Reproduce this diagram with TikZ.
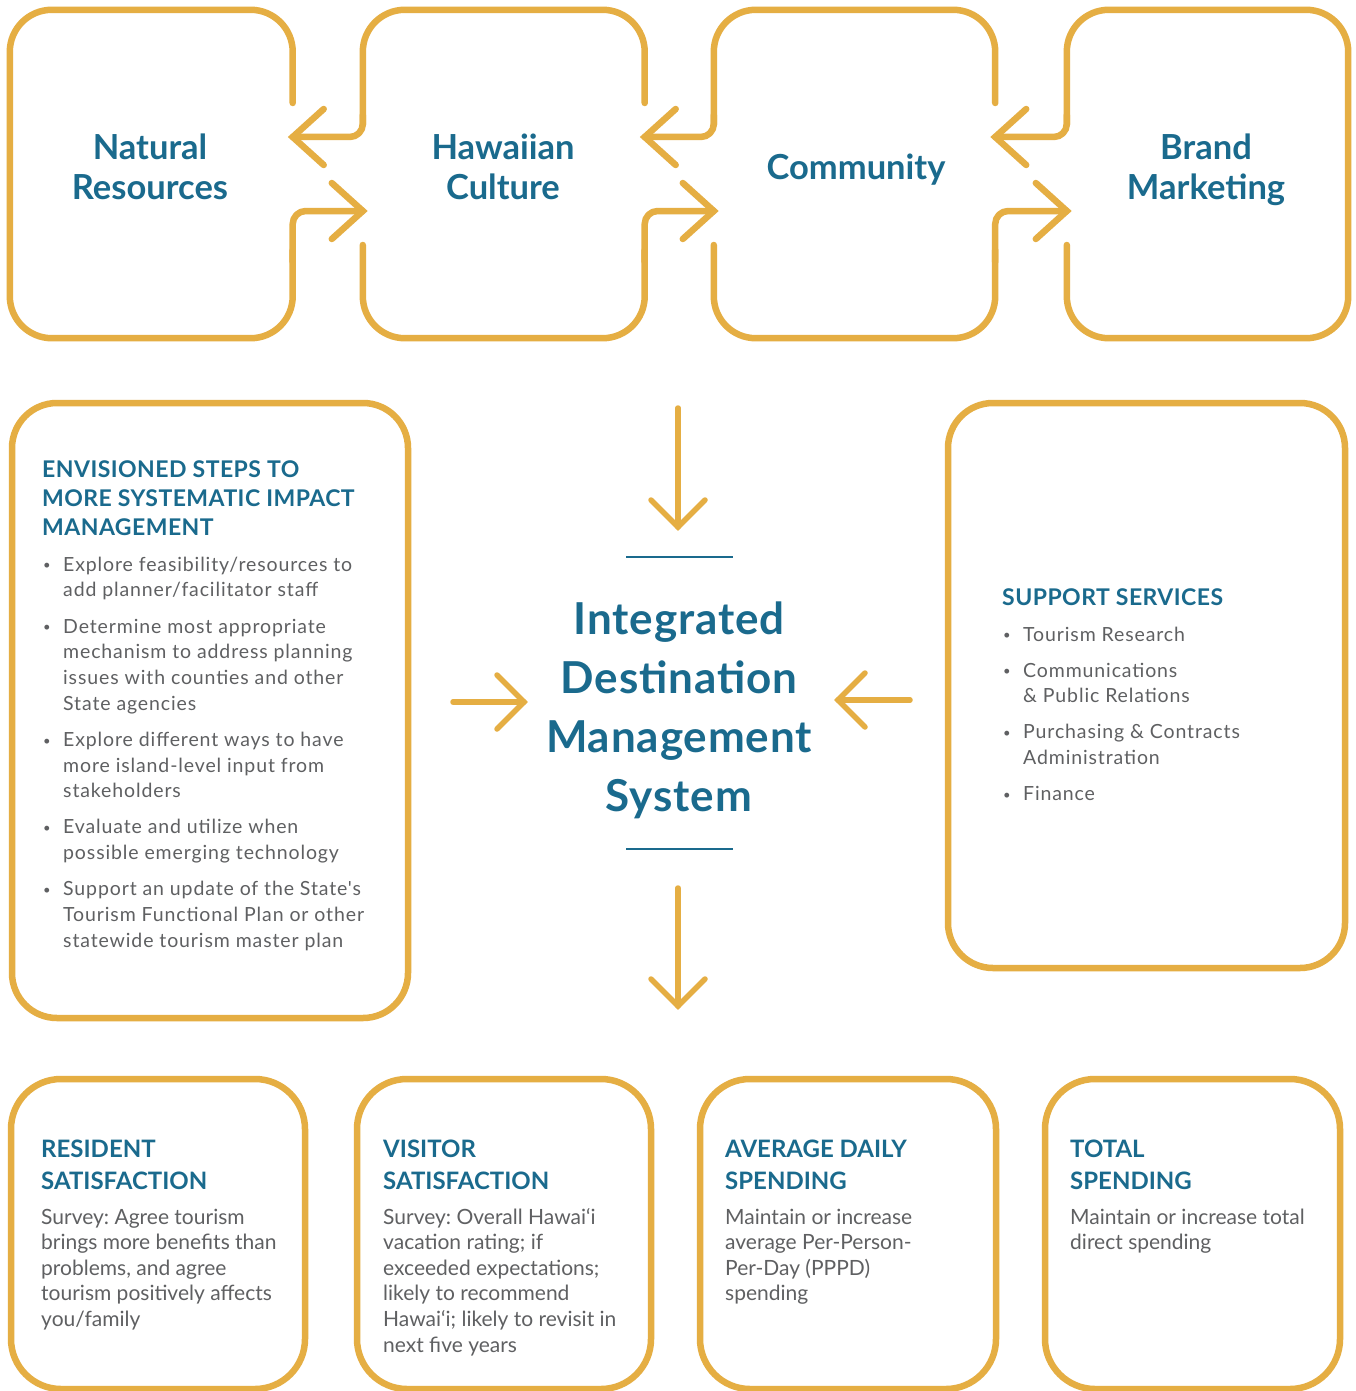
\documentclass[tikz,border=0pt]{standalone}
\usepackage{fontspec}
\setmainfont{Lato}
\newfontfamily\trkfont{Lato}[LetterSpace=4.5]
\newfontfamily\trkhead{Lato}[LetterSpace=2]
\usetikzlibrary{calc}
\definecolor{gold}{HTML}{E5AE43}
\definecolor{ink}{HTML}{1A6A8D}
\definecolor{txt}{HTML}{5F6062}
\newcommand\fsz[2]{\fontsize{#1}{#2}\selectfont}
\newcommand\bul{\hspace*{1pt}\raisebox{1.2pt}{\fontsize{13}{13}\selectfont •}}
\frenchspacing
\tikzset{
  goldln/.style={draw=gold, line width=6.5pt, line cap=round, line join=round},
  midln/.style={draw=gold, line width=5.5pt, line cap=round, line join=round},
  topbox/.style={rectangle, inner sep=0pt, minimum height=328pt},
  panel/.style={rectangle, draw=gold, line width=6.5pt, rounded corners=45pt, inner sep=0pt},
  lowpanel/.style={rectangle, draw=gold, line width=6.5pt, rounded corners=50pt, inner sep=0pt, minimum height=310pt},
  chevbig/.pic={\draw[goldln, line join=miter] (-31,-28) -- (0,0) -- (-31,28);},
  chevsmall/.pic={\draw[midln, line join=miter] (-27,-27) -- (0,0) -- (-27,27);},
  toplbl/.style={anchor=north, inner sep=0pt, text=ink, font=\fsz{34.5}{40}\bfseries},
  hdl/.style={anchor=north west, inner sep=0pt, text=ink, font=\trkhead\fsz{23}{29}\bfseries},
  bodyl/.style={anchor=north west, inner sep=0pt, text=txt, font=\trkfont\fsz{19.5}{25.7}},
  lowhd/.style={anchor=north west, inner sep=0pt, text=ink, font=\fsz{24}{32}\bfseries},
  lowbody/.style={anchor=north west, inner sep=0pt, text=txt, font=\fsz{21}{25.6}},
}
\begin{document}
\begin{tikzpicture}[x=1pt, y=-1pt]
\useasboundingbox (0,0) rectangle (1355,1391);
\fill[white] (0,0) rectangle (1355,1391);

% ---------- top row boxes ----------
\node[topbox, minimum width=282.5pt] (nat) at (151.25,174) {};
\node[topbox, minimum width=281.5pt] (haw) at (503.75,174) {};
\node[topbox, minimum width=281pt]   (com) at (854.5,174) {};
\node[topbox, minimum width=281pt]   (bra) at (1207.5,174) {};

\node[toplbl] (natT) at (150,131) {\begin{tabular}{@{}c@{}}Natural\\Resources\end{tabular}};
\node[toplbl] (hawT) at (503,131) {\begin{tabular}{@{}c@{}}Hawaiian\\Culture\end{tabular}};
\node[toplbl] (comT) at (856,151) {\begin{tabular}{@{}c@{}}Community\end{tabular}};
\node[toplbl] (braT) at (1206,131) {\begin{tabular}{@{}c@{}}Brand\\Marketing\end{tabular}};

% outlines (open where arrows pass)
\draw[goldln, rounded corners=42pt] (nat.east |- 0,103) -- (nat.north east) -- (nat.north west)
   -- (nat.south west) -- (nat.south east) -- (nat.east |- 0,250);
\foreach \b in {haw,com}{
  \draw[goldln, rounded corners=42pt] (\b.west |- 0,125) -- (\b.north west) -- (\b.north east) -- (\b.east |- 0,103);
  \draw[goldln, rounded corners=42pt] (\b.west |- 0,245) -- (\b.south west) -- (\b.south east) -- (\b.east |- 0,250);
}
\draw[goldln, rounded corners=42pt] (bra.west |- 0,125) -- (bra.north west) -- (bra.north east)
   -- (bra.south east) -- (bra.south west) -- (bra.west |- 0,245);

% connectors between neighbouring boxes
\foreach \a/\b in {nat/haw, haw/com, com/bra}{
  \draw[goldln, rounded corners=13pt] (\b.west |- 0,115) -- (\b.west |- 0,137) -- (\a.east |- 0,137);
  \pic[rotate=180] at (\a.east |- 0,137) {chevbig};
  \draw[goldln, rounded corners=13pt] (\a.east |- 0,262) -- (\a.east |- 0,211) -- (\b.west |- 0,211);
  \pic at (\b.west |- 0,211) {chevbig};
}

% ---------- middle row ----------
\node[panel, minimum width=396pt, minimum height=615pt] (steps) at (210,710.5) {};
\node[panel, minimum width=397pt, minimum height=565pt] (supp) at (1146.5,685.5) {};

\node[hdl] (stepsHd) at (42,456.7) {\begin{tabular}{@{}l@{}}ENVISIONED STEPS TO\\MORE SYSTEMATIC IMPACT\\MANAGEMENT\end{tabular}};
\node[bodyl] (stepsBd) at (42,553) {\begin{tabular}{@{}p{21pt}@{}l@{}}
\bul & Explore feasibility/resources to\\
     & add planner/facilitator staff\\[10.5pt]
\bul & Determine most appropriate\\
     & mechanism to address planning\\
     & issues with counties and other\\
     & State agencies\\[10.5pt]
\bul & Explore different ways to have\\
     & more island-level input from\\
     & stakeholders\\[10.5pt]
\bul & Evaluate and utilize when\\
     & possible emerging technology\\[10.5pt]
\bul & Support an update of the State's\\
     & Tourism Functional Plan or other\\
     & statewide tourism master plan
\end{tabular}};

\node[hdl] (suppHd) at (1002,584.7) {\begin{tabular}{@{}l@{}}SUPPORT SERVICES\end{tabular}};
\node[bodyl] (suppBd) at (1002,623) {\begin{tabular}{@{}p{21pt}@{}l@{}}
\bul & Tourism Research\\[10.3pt]
\bul & Communications\\
     & \& Public Relations\\[10.3pt]
\bul & Purchasing \& Contracts\\
     & Administration\\[10.3pt]
\bul & Finance
\end{tabular}};

\node[anchor=north, inner sep=0pt, text=ink, font=\trkhead\fsz{44}{59}\bfseries] (idms) at (679,592.5)
  {\begin{tabular}{@{}c@{}}Integrated\\Destination\\Management\\System\end{tabular}};
\draw[ink, line width=2.6pt] (626,557) -- (733,557);
\draw[ink, line width=2.6pt] (626,849) -- (733,849);

\coordinate (inTopS) at (678,408);  \coordinate (inTopE) at (678,527);
\coordinate (outS)   at (678,888);  \coordinate (outE)   at (678,1006);
\coordinate (inLS)   at (453,702);  \coordinate (inLE)   at (524,702);
\coordinate (inRS)   at (910,700);  \coordinate (inRE)   at (838,700);
\draw[midln] (inTopS) -- (inTopE); \pic[rotate=-90] at (inTopE) {chevsmall};
\draw[midln] (outS) -- (outE);     \pic[rotate=-90] at (outE) {chevsmall};
\draw[midln] (inLS) -- (inLE);     \pic at (inLE) {chevsmall};
\draw[midln] (inRS) -- (inRE);     \pic[rotate=180] at (inRE) {chevsmall};

% ---------- bottom row ----------
\node[lowpanel, minimum width=294pt] (res) at (158,1234) {};
\node[lowpanel, minimum width=294pt] (vis) at (504,1234) {};
\node[lowpanel, minimum width=296pt] (avg) at (848,1234) {};
\node[lowpanel, minimum width=295pt] (tot) at (1192.5,1234) {};

\node[lowhd] (resHd) at (41,1134.6) {\begin{tabular}{@{}l@{}}RESIDENT\\SATISFACTION\end{tabular}};
\node[lowhd] (visHd) at (383,1134.6) {\begin{tabular}{@{}l@{}}VISITOR\\SATISFACTION\end{tabular}};
\node[lowhd] (avgHd) at (725,1134.6) {\begin{tabular}{@{}l@{}}AVERAGE DAILY\\SPENDING\end{tabular}};
\node[lowhd] (totHd) at (1070,1134.6) {\begin{tabular}{@{}l@{}}TOTAL\\SPENDING\end{tabular}};

\node[lowbody] (resBd) at (41,1206) {\begin{tabular}{@{}l@{}}Survey: Agree tourism\\brings more benefits than\\problems, and agree\\tourism positively affects\\you/family\end{tabular}};
\node[lowbody] (visBd) at (383,1206) {\begin{tabular}{@{}l@{}}Survey: Overall Hawai‘i\\vacation rating; if\\exceeded expectations;\\likely to recommend\\Hawai‘i; likely to revisit in\\next five years\end{tabular}};
\node[lowbody] (avgBd) at (725,1206) {\begin{tabular}{@{}l@{}}Maintain or increase\\average Per-Person-\\Per-Day (PPPD)\\spending\end{tabular}};
\node[lowbody] (totBd) at (1070,1206) {\begin{tabular}{@{}l@{}}Maintain or increase total\\direct spending\end{tabular}};
\end{tikzpicture}
\end{document}
